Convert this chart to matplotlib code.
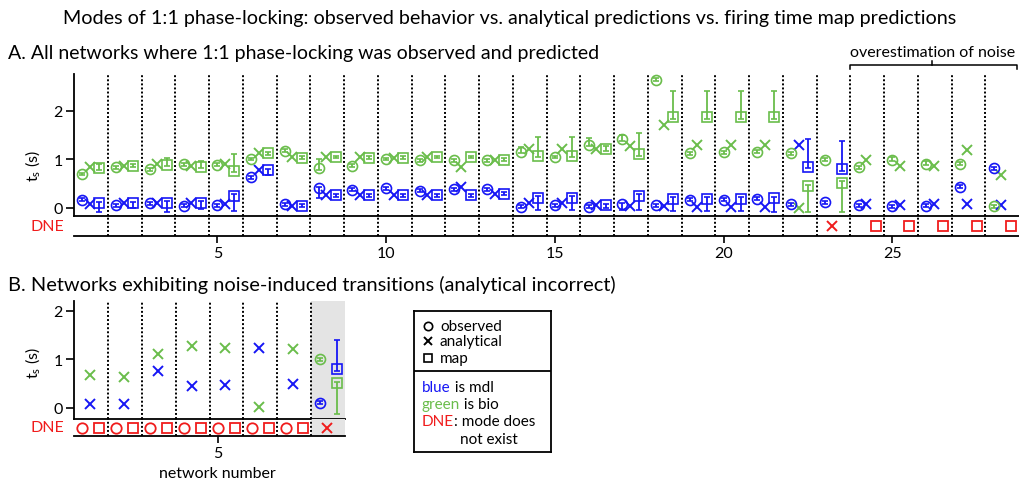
import numpy as np
import matplotlib.pyplot as plt

plt.rcParams['font.family'] = ['Lato', 'DejaVu Sans']
plt.rcParams['mathtext.default'] = 'regular'

nan = np.nan
BLUE = '#1616f5'
GREEN = '#6abd4b'
RED = '#f01c1c'

# ---- panel A: 28 networks ----
net_a = np.arange(1, 29)
mdl_obs = [0.17, 0.06, 0.10, 0.05, 0.06, 0.63, 0.08, 0.41, 0.38, 0.41, 0.36, 0.39, 0.39, 0.03,
           0.06, 0.03, 0.08, 0.06, 0.17, 0.17, 0.19, 0.08, 0.12, 0.06, 0.04, 0.05, 0.44, 0.82]
mdl_obs_lo = [0.03]*7 + [0.20] + [0.03]*8 + [0.13] + [0.03]*11
mdl_ana = [0.08, 0.10, 0.10, 0.11, 0.08, 0.79, 0.05, 0.26, 0.26, 0.26, 0.26, 0.43, 0.29, 0.10,
           0.10, 0.06, 0.05, 0.05, 0.03, 0.03, 0.02, 1.29, nan, 0.08, 0.06, 0.09, 0.09, 0.06]
mdl_map = [0.10, 0.10, 0.11, 0.11, 0.25, 0.78, 0.05, 0.26, 0.26, 0.26, 0.26, 0.26, 0.29, 0.21,
           0.21, 0.06, 0.25, 0.19, 0.19, 0.19, 0.20, 0.85, 0.80, nan, nan, nan, nan, nan]
mdl_map_lo = [0.19, 0.09, 0.19, 0.13, 0.32, 0.10, 0.03, 0.03, 0.03, 0.03, 0.03, 0.03, 0.03, 0.26,
              0.26, 0.05, 0.30, 0.26, 0.26, 0.26, 0.29, 0.03, 0.03, nan, nan, nan, nan, nan]
mdl_map_hi = [0.03]*21 + [0.57, 0.59] + [nan]*5

bio_obs = [0.70, 0.84, 0.80, 0.90, 0.89, 1.01, 1.18, 0.82, 0.87, 1.01, 0.98, 0.98, 0.98, 1.16,
           1.05, 1.30, 1.42, 2.64, 1.13, 1.15, 1.16, 1.13, 0.99, 0.84, 0.99, 0.91, 0.91, 0.04]
bio_obs_hi = [0.03]*7 + [0.19] + [0.03]*5 + [0.09, 0.03, 0.14, 0.08] + [0.03]*7 + [0.06, 0.06, 0.03, 0.03]
bio_ana = [0.84, 0.87, 0.90, 0.87, 0.90, 1.13, 1.05, 1.05, 1.05, 1.03, 1.05, 0.84, 0.99, 1.21,
           1.21, 1.22, 1.27, 1.70, 1.30, 1.30, 1.29, 0.00, nan, 0.99, 0.87, 0.87, 1.20, 0.68]
bio_map = [0.82, 0.87, 0.89, 0.85, 0.77, 1.13, 1.04, 1.05, 1.04, 1.04, 1.05, 1.05, 0.99, 1.08,
           1.08, 1.21, 1.11, 1.87, 1.87, 1.87, 1.87, 0.45, 0.52, nan, nan, nan, nan, nan]
bio_map_hi = [0.08, 0.03, 0.15, 0.12, 0.34, 0.03, 0.03, 0.03, 0.03, 0.03, 0.03, 0.03, 0.03, 0.38,
              0.38, 0.06, 0.44, 0.53, 0.53, 0.53, 0.53, 0.03, 0.03, nan, nan, nan, nan, nan]
bio_map_lo = [0.03]*21 + [0.54, 0.61] + [nan]*5

dne_a_ana = [23]
dne_a_map = [24, 25, 26, 27, 28]

# ---- panel B: 8 networks ----
net_b = np.arange(1, 9)
b_mdl_ana = [0.08, 0.08, 0.76, 0.45, 0.47, 1.24, 0.49, nan]
b_bio_ana = [0.68, 0.64, 1.11, 1.28, 1.24, 0.02, 1.22, nan]
b_mdl_obs = [nan]*7 + [0.11]
b_bio_obs = [nan]*7 + [1.00]
b_mdl_map = [nan]*7 + [0.80]
b_mdl_map_hi = [nan]*7 + [0.60]
b_bio_map = [nan]*7 + [0.51]
b_bio_map_lo = [nan]*7 + [0.63]
dne_b_obs = [1, 2, 3, 4, 5, 6, 7]
dne_b_map = [1, 2, 3, 4, 5, 6, 7]
dne_b_ana = [8]

OFF_ANA, OFF_MAP = 0.22, 0.5

W, H = 1019, 485
fig = plt.figure(figsize=(W/100, H/100), dpi=100)


def box(l, t, r, b):
    return [l/W, 1 - b/H, (r - l)/W, (b - t)/H]


def small(v, e=0.03):
    return [e if not np.isnan(x) else nan for x in v]


def pts(ax, x, y, lo, hi, c, m, ms):
    ax.errorbar(x, y, yerr=[lo, hi], fmt=m, ms=ms, mfc='none', mec=c, mew=1.2,
                ecolor=c, elinewidth=1.3, capsize=2.5, capthick=1.2)


def crosses(ax, x, y, c):
    ax.plot(x, y, 'x', ms=7.8, mew=1.4, color=c, ls='none')


def style_main(ax, ymin, ymax, xmax):
    ax.set_xlim(0.75, xmax)
    ax.set_ylim(ymin, ymax)
    for s in ['top', 'right']:
        ax.spines[s].set_visible(False)
    for s in ['left', 'bottom']:
        ax.spines[s].set_linewidth(1.3)
    ax.set_yticks([0, 1, 2])
    ax.tick_params(axis='y', direction='out', length=6, width=1.2, labelsize=11.5, pad=2)
    ax.tick_params(axis='x', bottom=False, labelbottom=False)
    ax.patch.set_alpha(0)


def style_dne(ax, ticks):
    ax.set_ylim(0, 1)
    ax.set_yticks([])
    for s in ['top', 'left', 'right']:
        ax.spines[s].set_visible(False)
    ax.spines['bottom'].set_linewidth(1.3)
    ax.set_xticks(ticks)
    ax.tick_params(axis='x', direction='out', length=5, width=1.2, labelsize=11.5, pad=2)
    ax.patch.set_alpha(0)


def separators(axes, n):
    for ax in axes:
        for k in range(1, n):
            ax.axvline(k + 0.75, color='black', lw=1.4, ls=(0, (1, 1.1)), zorder=1)


# ---------------- panel A ----------------
axA = fig.add_axes(box(74, 75, 1019, 217))
dneA = fig.add_axes(box(74, 217, 1019, 237), sharex=axA)
style_main(axA, -0.165, 2.76, 28.75)
style_dne(dneA, [5, 10, 15, 20, 25])
separators([axA, dneA], 28)

pts(axA, net_a, bio_obs, small(bio_obs), bio_obs_hi, GREEN, 'o', 7.2)
crosses(axA, net_a + OFF_ANA, bio_ana, GREEN)
pts(axA, net_a + OFF_MAP, bio_map, bio_map_lo, bio_map_hi, GREEN, 's', 6.8)
pts(axA, net_a, mdl_obs, mdl_obs_lo, small(mdl_obs), BLUE, 'o', 7.2)
crosses(axA, net_a + OFF_ANA, mdl_ana, BLUE)
pts(axA, net_a + OFF_MAP, mdl_map, mdl_map_lo, mdl_map_hi, BLUE, 's', 6.8)

dneA.plot(np.array(dne_a_ana) + OFF_ANA, [0.5]*len(dne_a_ana), 'x', ms=7.8, mew=1.4, color=RED)
dneA.plot(np.array(dne_a_map) + OFF_MAP, [0.5]*len(dne_a_map), 's', ms=7, mew=1.3,
          mfc='none', mec=RED)

# bracket over the last networks
axA.plot([23.75, 23.75, 28.7, 28.7], [2.86, 2.95, 2.95, 2.86], color='black', lw=1.1, clip_on=False)
axA.plot([26.18, 26.18], [2.95, 3.03], color='black', lw=1.1, clip_on=False)
axA.text(26.18, 3.06, 'overestimation of noise', ha='center', va='bottom', fontsize=11.5)

# ---------------- panel B ----------------
axB = fig.add_axes(box(74, 302, 345, 420))
dneB = fig.add_axes(box(74, 420, 345, 437), sharex=axB)
style_main(axB, -0.227, 2.2, 8.75)
style_dne(dneB, [5])
for ax in [axB, dneB]:
    ax.axvspan(7.75, 8.75, color='#e4e4e4', lw=0, zorder=0)
separators([axB, dneB], 8)

crosses(axB, net_b + OFF_ANA, b_bio_ana, GREEN)
crosses(axB, net_b + OFF_ANA, b_mdl_ana, BLUE)
pts(axB, net_b, b_bio_obs, small(b_bio_obs), small(b_bio_obs), GREEN, 'o', 7.2)
pts(axB, net_b, b_mdl_obs, small(b_mdl_obs), small(b_mdl_obs), BLUE, 'o', 7.2)
pts(axB, net_b + OFF_MAP, b_mdl_map, small(b_mdl_map), b_mdl_map_hi, BLUE, 's', 6.8)
pts(axB, net_b + OFF_MAP, b_bio_map, b_bio_map_lo, small(b_bio_map), GREEN, 's', 6.8)

dneB.plot(dne_b_obs, [0.5]*len(dne_b_obs), 'o', ms=7.5, mew=1.3, mfc='none', mec=RED)
dneB.plot(np.array(dne_b_map) + OFF_MAP, [0.5]*len(dne_b_map), 's', ms=7, mew=1.3,
          mfc='none', mec=RED)
dneB.plot(np.array(dne_b_ana) + OFF_ANA, [0.5]*len(dne_b_ana), 'x', ms=7.8, mew=1.4, color=RED)
fig.text(217/W, 1 - 474/H, 'network number', ha='center', va='center', fontsize=11.5)

# ---------------- texts ----------------
fig.text(0.5, 1 - 24/H, 'Modes of 1:1 phase-locking: observed behavior vs. analytical predictions '
         'vs. firing time map predictions', ha='center', va='baseline', fontsize=14.2)
fig.text(8/W, 1 - 59/H, 'A. All networks where 1:1 phase-locking was observed and predicted',
         ha='left', va='baseline', fontsize=14)
fig.text(8/W, 1 - 291/H, 'B. Networks exhibiting noise-induced transitions (analytical incorrect)',
         ha='left', va='baseline', fontsize=14.4)
for yc in [166, 363]:
    fig.text(33/W, 1 - yc/H, 't$_s$ (s)', rotation=90, ha='center', va='center', fontsize=11.5)
for yc in [227, 428.5]:
    fig.text(64/W, 1 - yc/H, 'DNE', color=RED, ha='right', va='center', fontsize=11.5)

# ---------------- key box ----------------
key = fig.add_axes(box(414, 312, 551, 453))
key.set_xlim(414, 551)
key.set_ylim(453, 312)
key.set_xticks([])
key.set_yticks([])
for s in key.spines.values():
    s.set_linewidth(1.3)
key.axhline(372, color='black', lw=1.3)
key.plot([428], [327], 'o', ms=6, mfc='none', mec='black', mew=1.2)
key.plot([428], [342], 'x', ms=6, mew=1.4, color='black')
key.plot([428], [359], 's', ms=5.5, mfc='none', mec='black', mew=1.2)
for yy, lab in [(327, 'observed'), (342, 'analytical'), (359, 'map')]:
    key.text(440, yy, lab, ha='left', va='center', fontsize=11)

for yy, word, rest, c in [(392, 'blue', ' is mdl', BLUE), (409, 'green', ' is bio', GREEN),
                          (426, 'DNE', ': mode does', RED)]:
    t1 = key.text(422, yy, word, color=c, ha='left', va='baseline', fontsize=11)
    key.annotate(rest, xy=(1, 0), xycoords=t1, ha='left', va='bottom', fontsize=11)
key.text(460, 444, 'not exist', ha='left', va='baseline', fontsize=11)

fig.savefig('out.png', dpi=100)
